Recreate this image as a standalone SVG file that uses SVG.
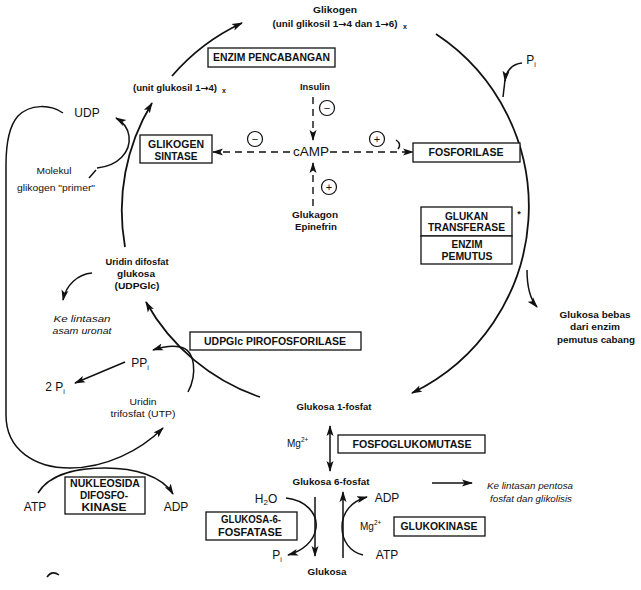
<svg xmlns="http://www.w3.org/2000/svg" width="641" height="590" viewBox="0 0 641 590">
<style>
.t{font-family:"Liberation Sans",Arial,sans-serif;font-weight:bold;font-size:9px;fill:#111;text-anchor:middle}
.b{font-size:10px}
.l{font-size:12px;font-weight:normal}
.n{font-weight:normal}
.i{font-style:italic;font-weight:normal;font-size:8.5px}
.s{font-size:11px;font-weight:normal}
.x{font-size:7px}
.m{font-size:10px;font-weight:normal;text-anchor:start}
.ar{font-family:"DejaVu Sans",sans-serif}
.box{fill:#fff;stroke:#111;stroke-width:1.3}
.ln{fill:none;stroke:#111;stroke-width:1.5}
.main{fill:none;stroke:#111;stroke-width:1.8}
.dash{fill:none;stroke:#111;stroke-width:1.4;stroke-dasharray:7,5}
.sg{fill:#fff;stroke:#111;stroke-width:1.2}
</style>
<defs>
<marker id="ah" markerWidth="11" markerHeight="8" refX="10" refY="4" orient="auto-start-reverse" markerUnits="userSpaceOnUse">
<path d="M0,0.5 L11,4 L0,7.5 L2.5,4 z" fill="#111"/>
</marker>
</defs>
<rect width="641" height="590" fill="#fff"/>

<g id="connectors">
<path class="main" d="M260,397 A207,207 0 0 1 146,302" marker-end="url(#ah)"/>
<path class="main" d="M125,247 A207,207 0 0 1 152,103" marker-end="url(#ah)"/>
<path class="main" d="M172,76 A207,207 0 0 1 242,23" marker-end="url(#ah)"/>
<path class="main" d="M436,34 A207,207 0 0 1 412,393" marker-end="url(#ah)"/>
<path class="ln" d="M522,63 C512,64 506,71 505,81" marker-end="url(#ah)"/>
<path class="ln" d="M505,80 L503,97"/>
<path class="ln" d="M527,270 C527,288 530,299 537,307" marker-end="url(#ah)"/>
<path class="ln" d="M97,168 C118,166 131,152 129,136 C128,128 123,122 116,118" marker-end="url(#ah)"/>
<path class="ln" d="M89,178 L96,170"/>
<path class="ln" d="M63,113 C50,104 30,104 18,116 C9,126 6,142 6,165 L6,415 C6,450 35,468 70,468 C105,468 140,451 163,428" marker-end="url(#ah)"/>
<path class="ln" d="M38,493 C50,473 80,468 105,468 C135,468 162,476 173,494" marker-end="url(#ah)"/>
<path class="ln" d="M92,273 C78,274 66,285 63,300" marker-end="url(#ah)"/>
<path class="ln" d="M125,362 L75,383" marker-end="url(#ah)"/>
<path class="ln" d="M188,392 C197,375 196,350 180,347 C170,345 162,347 153,350" marker-end="url(#ah)"/>
<path class="ln" d="M330,426 L330,471" marker-start="url(#ah)" marker-end="url(#ah)"/>
<path class="ln" d="M315,497 L315,556" marker-end="url(#ah)"/>
<path class="ln" d="M343,558 L343,492" marker-end="url(#ah)"/>
<path class="ln" d="M286,498 C305,500 318,513 316,528 C314,542 302,551 288,555" marker-end="url(#ah)"/>
<path class="ln" d="M363,555 C350,552 342,541 342,527 C342,512 352,501 367,497" marker-end="url(#ah)"/>
<path class="ln" d="M432,483 L472,483" stroke-width="1.2" marker-end="url(#ah)"/>
<path class="dash" d="M313,97 L313,140" marker-end="url(#ah)"/>
<path class="dash" d="M313,206 L313,163" marker-end="url(#ah)"/>
<path class="dash" d="M290,152 L213,152" stroke-dasharray="8,6" marker-end="url(#ah)"/>
<path class="dash" d="M330,152 L413,152" stroke-dasharray="14,14,9,8,30" marker-end="url(#ah)"/>
<path class="ln" stroke-width="1" d="M396,140 Q402,144 398,149"/>
<path class="ln" stroke-width="1.3" d="M47,577 Q52,570 59,575"/>
</g>

<g id="signs">
<circle class="sg" cx="327" cy="108" r="7.5"/><text class="t s" x="327" y="112">−</text>
<circle class="sg" cx="255" cy="139" r="7.5"/><text class="t s" x="255" y="143">−</text>
<circle class="sg" cx="377" cy="139" r="7.5"/><text class="t s" x="377" y="143">+</text>
<circle class="sg" cx="329" cy="187" r="7.5"/><text class="t s" x="329" y="191">+</text>
</g>

<g id="glikogen"><text class="t" x="335" y="13" textLength="44" lengthAdjust="spacingAndGlyphs">Glikogen</text>
<text class="t" x="335" y="27" textLength="125" lengthAdjust="spacingAndGlyphs">(unil glikosil 1<tspan class="ar">→</tspan>4 dan 1<tspan class="ar">→</tspan>6)</text><text class="t x" x="405" y="29">x</text></g>
<g id="enzim-pencabangan"><rect class="box" x="208" y="48" width="127" height="19"/><text class="t b" x="271.5" y="61" textLength="117" lengthAdjust="spacingAndGlyphs">ENZIM PENCABANGAN</text></g>
<g id="unit-glukosil"><text class="t" x="175" y="91" textLength="84" lengthAdjust="spacingAndGlyphs">(unit glukosil 1<tspan class="ar">→</tspan>4)</text><text class="t x" x="224" y="93">x</text></g>
<g id="insulin"><text class="t" x="315" y="90" textLength="30" lengthAdjust="spacingAndGlyphs">Insulin</text></g>
<g id="udp"><text class="t l" x="87" y="117">UDP</text></g>
<g id="glikogen-sintase"><rect class="box" x="140" y="135" width="72" height="28"/><text class="t b" x="176" y="148" textLength="56" lengthAdjust="spacingAndGlyphs">GLIKOGEN</text><text class="t b" x="176" y="160" textLength="43" lengthAdjust="spacingAndGlyphs">SINTASE</text></g>
<g id="camp"><text class="t l" x="311" y="156" textLength="36" lengthAdjust="spacingAndGlyphs">cAMP</text></g>
<g id="fosforilase"><rect class="box" x="413" y="143" width="107" height="19"/><text class="t b" x="466" y="156" textLength="75" lengthAdjust="spacingAndGlyphs">FOSFORILASE</text></g>
<g id="molekul"><text class="t n" x="54" y="174" textLength="35" lengthAdjust="spacingAndGlyphs">Molekul</text><text class="t n" x="56" y="191" textLength="78" lengthAdjust="spacingAndGlyphs">glikogen "primer"</text></g>
<g id="glukagon"><text class="t" x="315" y="218" textLength="46" lengthAdjust="spacingAndGlyphs">Glukagon</text><text class="t" x="316" y="230" textLength="42" lengthAdjust="spacingAndGlyphs">Epinefrin</text></g>
<g id="glukan-transferase"><rect class="box" x="421" y="207" width="91" height="29"/><text class="t b" x="466.5" y="220" textLength="43" lengthAdjust="spacingAndGlyphs">GLUKAN</text><text class="t b" x="466.5" y="231" textLength="77" lengthAdjust="spacingAndGlyphs">TRANSFERASE</text><text class="t" x="519" y="217">*</text></g>
<g id="enzim-pemutus"><rect class="box" x="421" y="236" width="91" height="28"/><text class="t b" x="467" y="248" textLength="31" lengthAdjust="spacingAndGlyphs">ENZIM</text><text class="t b" x="467" y="260" textLength="51" lengthAdjust="spacingAndGlyphs">PEMUTUS</text></g>
<g id="pi-top"><text class="t l" x="531" y="64">P<tspan font-size="7" dy="3">i</tspan></text></g>
<g id="udpglc"><text class="t" x="137" y="265" textLength="63" lengthAdjust="spacingAndGlyphs">Uridin difosfat</text><text class="t" x="136" y="277" textLength="38" lengthAdjust="spacingAndGlyphs">glukosa</text><text class="t" x="137" y="289" textLength="45" lengthAdjust="spacingAndGlyphs">(UDPGlc)</text></g>
<g id="asam-uronat"><text class="t i" x="82" y="322" textLength="57" lengthAdjust="spacingAndGlyphs">Ke lintasan</text><text class="t i" x="82" y="334" textLength="59" lengthAdjust="spacingAndGlyphs">asam uronat</text></g>
<g id="udpglc-pirofosforilase"><rect class="box" x="190" y="332" width="171" height="18"/><text class="t b" x="275" y="345" textLength="142" lengthAdjust="spacingAndGlyphs">UDPGlc PIROFOSFORILASE</text></g>
<g id="ppi"><text class="t l" x="140" y="367">PP<tspan font-size="7" dy="3">i</tspan></text></g>
<g id="two-pi"><text class="t l" x="55" y="391">2 P<tspan font-size="7" dy="3">i</tspan></text></g>
<g id="utp"><text class="t n" x="143" y="405" textLength="27" lengthAdjust="spacingAndGlyphs">Uridin</text><text class="t n" x="143" y="417" textLength="65" lengthAdjust="spacingAndGlyphs">trifosfat (UTP)</text></g>
<g id="glukosa-bebas"><text class="t" x="595" y="318" textLength="71" lengthAdjust="spacingAndGlyphs">Glukosa bebas</text><text class="t" x="595" y="330" textLength="50" lengthAdjust="spacingAndGlyphs">dari enzim</text><text class="t" x="596" y="343" textLength="78" lengthAdjust="spacingAndGlyphs">pemutus cabang</text></g>
<g id="glukosa-1-fosfat"><text class="t" x="334" y="410" textLength="75" lengthAdjust="spacingAndGlyphs">Glukosa 1-fosfat</text></g>
<g id="mg1"><text class="t m" x="287" y="447">Mg<tspan font-size="6.5" dy="-5">2+</tspan></text></g>
<g id="fosfoglukomutase"><rect class="box" x="338" y="435" width="147" height="18"/><text class="t b" x="412" y="448" textLength="119" lengthAdjust="spacingAndGlyphs">FOSFOGLUKOMUTASE</text></g>
<g id="glukosa-6-fosfat"><text class="t" x="331" y="485" textLength="77" lengthAdjust="spacingAndGlyphs">Glukosa 6-fosfat</text></g>
<g id="pentosa"><text class="t i" x="530" y="489" textLength="86" lengthAdjust="spacingAndGlyphs">Ke lintasan pentosa</text><text class="t i" x="531" y="502" textLength="82" lengthAdjust="spacingAndGlyphs">fosfat dan glikolisis</text></g>
<g id="h2o"><text class="t l" x="266" y="503">H<tspan font-size="8" dy="2">2</tspan><tspan dy="-2">O</tspan></text></g>
<g id="adp-right"><text class="t l" x="387" y="502">ADP</text></g>
<g id="glukosa-6-fosfatase"><rect class="box" x="206" y="512" width="91" height="28"/><text class="t b" x="251" y="523" textLength="60" lengthAdjust="spacingAndGlyphs">GLUKOSA-6-</text><text class="t b" x="250" y="536" textLength="64" lengthAdjust="spacingAndGlyphs">FOSFATASE</text></g>
<g id="mg2"><text class="t m" x="360" y="530">Mg<tspan font-size="6.5" dy="-5">2+</tspan></text></g>
<g id="glukokinase"><rect class="box" x="394" y="517" width="91" height="19"/><text class="t b" x="439" y="530" textLength="77" lengthAdjust="spacingAndGlyphs">GLUKOKINASE</text></g>
<g id="pi-bottom"><text class="t l" x="277" y="559">P<tspan font-size="7" dy="3">i</tspan></text></g>
<g id="atp-right"><text class="t l" x="387" y="559">ATP</text></g>
<g id="glukosa"><text class="t" x="327" y="575" textLength="39" lengthAdjust="spacingAndGlyphs">Glukosa</text></g>
<g id="atp-left"><text class="t l" x="35" y="511">ATP</text></g>
<g id="adp-left"><text class="t l" x="176" y="511">ADP</text></g>
<g id="nukleosida"><rect class="box" x="65" y="477" width="80" height="37"/><text class="t b" x="105" y="487" textLength="70" lengthAdjust="spacingAndGlyphs">NUKLEOSIDA</text><text class="t b" x="104" y="499" textLength="48" lengthAdjust="spacingAndGlyphs">DIFOSFO-</text><text class="t b" x="104" y="511" textLength="45" lengthAdjust="spacingAndGlyphs">KINASE</text></g>
</svg>
